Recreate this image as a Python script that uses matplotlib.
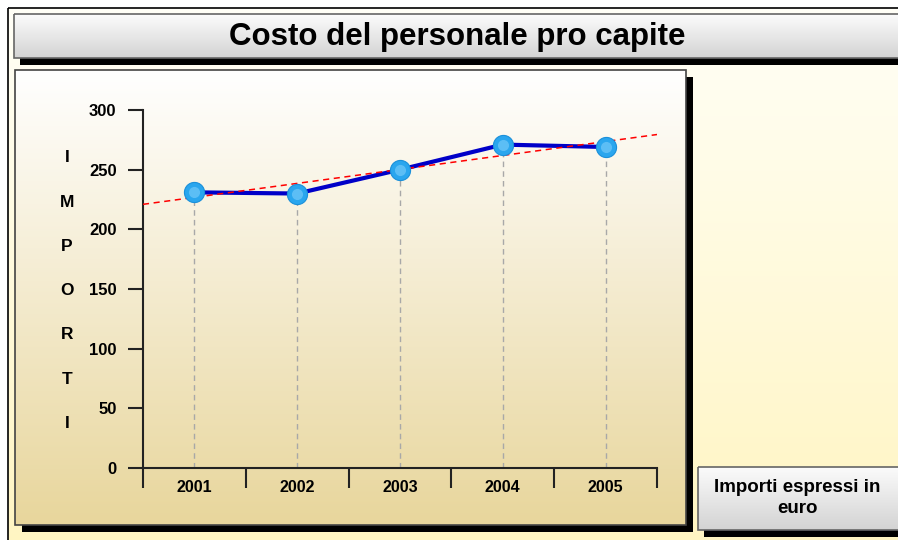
import matplotlib.pyplot as plt
import numpy as np
from matplotlib.patches import Rectangle
from matplotlib.colors import LinearSegmentedColormap

years = ['2001', '2002', '2003', '2004', '2005']
importi = [231, 230, 250, 271, 269]
y_ticks = [0, 50, 100, 150, 200, 250, 300]
title = 'Costo del personale pro capite'
y_label = 'IMPORTI'
note = 'Importi espressi in\neuro'

W, H = 898, 540
plt.rcParams['font.family'] = ['Liberation Sans', 'DejaVu Sans']
plt.rcParams['font.weight'] = 'bold'

fig = plt.figure(figsize=(W / 100, H / 100), dpi=100, facecolor='white')
bg = fig.add_axes([0, 0, 1, 1], zorder=0)
bg.set_axis_off()
grad = np.linspace(0, 1, 256).reshape(-1, 1)


def gbox(x0, y0, x1, y1, c_top, c_bot, edge=None, z=1):
    cmap = LinearSegmentedColormap.from_list('g', [c_top, c_bot])
    bg.imshow(grad, cmap=cmap, extent=(x0, x1, y1, y0), aspect='auto',
              zorder=z, interpolation='bilinear')
    if edge:
        bg.add_patch(Rectangle((x0, y0), x1 - x0, y1 - y0, fill=False,
                               ec=edge, lw=1.2, zorder=z + 0.1))


def shadow(x0, y0, x1, y1, z=1):
    bg.add_patch(Rectangle((x0, y0), x1 - x0, y1 - y0, fc='black',
                           ec='none', zorder=z))


# page background + frame
gbox(8, 8, W + 5, H + 5, '#fffff7', '#fff5c2', edge='black', z=1)
# title box
shadow(20, 57, W + 5, 65, z=2)
gbox(14, 14, W + 5, 58, '#fcfcfc', '#d3d3d3', edge='#666666', z=3)
bg.text(457, 37, title, ha='center', va='center', fontsize=22.5,
        fontweight='bold', zorder=5)
# chart panel
shadow(22, 77, 693, 532, z=2)
gbox(15, 70, 686, 525, '#ffffff', '#e8d69c', edge='#444444', z=3)
# note box
shadow(704, 472, W + 5, 537, z=2)
gbox(698, 467, W + 5, 530, '#fbfbfb', '#d3d3d3', edge='#666666', z=3)
bg.text(797, 498, note, ha='center', va='center', fontsize=13.5,
        fontweight='bold', zorder=5, linespacing=1.3)

bg.set_xlim(0, W)
bg.set_ylim(H, 0)

# main plot
ax = fig.add_axes([143 / W, 1 - 468 / H, (657 - 143) / W, (468 - 110) / H], zorder=2)
ax.patch.set_alpha(0)
x = np.arange(1, len(years) + 1)

for xi, v in zip(x, importi):
    ax.plot([xi, xi], [0, v], color='#a8a8a8', lw=1, ls=(0, (4, 3)), zorder=1)

# linear trend
coef = np.polyfit(x, importi, 1)
xt = np.array([0.5, 5.5])
ax.plot(xt, np.polyval(coef, xt), color='red', lw=1.1, ls=(0, (4, 3)), zorder=3)

ax.plot(x, importi, color='#0000c8', lw=3, zorder=2)
ax.plot(x, importi, 'o', ms=14.5, mfc='#2aa6ee', mec='#1b90da', mew=0.8, zorder=4)
ax.plot(x, importi, 'o', ms=8, mfc='#9adcff', mec='none', zorder=5, alpha=0.45)

ax.set_xlim(0.5, 5.5)
ax.set_ylim(0, 300)
for s in ['top', 'right']:
    ax.spines[s].set_visible(False)
for s in ['left', 'bottom']:
    ax.spines[s].set_linewidth(1.5)
    ax.spines[s].set_color('#222222')

ax.set_yticks(y_ticks)
ax.set_yticklabels([str(t) for t in y_ticks], fontsize=12, fontweight='bold')
ax.tick_params(axis='y', length=11, width=1.5, pad=8, color='#222222')

ax.set_xticks(np.arange(0.5, 6, 1.0))
ax.set_xticklabels([])
ax.tick_params(axis='x', which='major', length=14.5, width=1.5, color='#222222')
ax.set_xticks(x, minor=True)
ax.set_xticklabels(years, minor=True, fontsize=11.5, fontweight='bold')
ax.tick_params(axis='x', which='minor', length=0, pad=9)

for i, ch in enumerate(y_label):
    fig.text(67 / W, 1 - (158 + i * 44.2) / H, ch, ha='center', va='center',
             fontsize=12.5, fontweight='bold')

fig.savefig('out.png', dpi=100, facecolor='white')
